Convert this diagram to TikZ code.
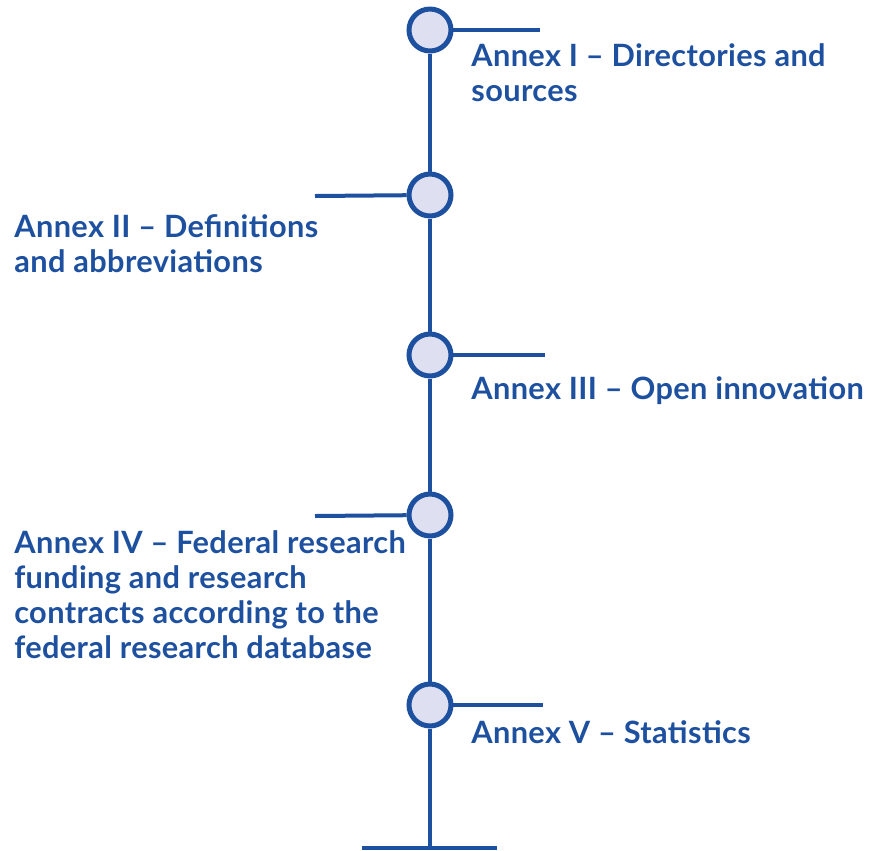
\documentclass[tikz,border=0pt]{standalone}
\usepackage{fontspec}
\setmainfont{Lato}[LetterSpace=1.2]
\usetikzlibrary{positioning}
\definecolor{annexblue}{RGB}{30,80,160}
\definecolor{annexfill}{RGB}{222,223,241}

\begin{document}
\begin{tikzpicture}[
  x=0.02cm, y=-0.02cm,
  font=\bfseries\fontsize{17.5}{19.9}\selectfont,
  stem/.style={draw=annexblue, line width=0.08cm},
  dot/.style={
    circle, draw=annexblue, fill=annexfill, line width=0.1cm,
    minimum size=0.84cm, inner sep=0pt
  },
  annex/.style={
    text=annexblue, align=left, anchor=north west, inner sep=0pt
  },
]
\useasboundingbox (0,0) rectangle (870,850);
%% Milestones
\node[dot] (C1) at (430,30)  {};
\node[dot] (C2) at (430,195) {};
\node[dot] (C3) at (430,355) {};
\node[dot] (C4) at (430,515) {};
\node[dot] (C5) at (430,705) {};
\coordinate (BOT) at (430,848);
%% Stem
\draw[stem] (C1)--(C2); \draw[stem] (C2)--(C3); \draw[stem] (C3)--(C4);
\draw[stem] (C4)--(C5); \draw[stem] (C5)--(BOT);
%% Foot
\coordinate (FL) at (362,848); \coordinate (FR) at (497,848);
\draw[stem] (FL)--(FR);
%% Ticks
\coordinate (E1) at (540,30);  \coordinate (E2) at (315,196);
\coordinate (E3) at (545,355); \coordinate (E4) at (315,516);
\coordinate (E5) at (543,705);
\draw[stem] (C1)--(E1); \draw[stem] (E2)--(C2); \draw[stem] (C3)--(E3);
\draw[stem] (E4)--(C4); \draw[stem] (C5)--(E5);
%% Labels
\node[annex] (T1) at (471,43)  {Annex I – Directories and\\sources};
\node[annex] (T2) at (14,214)  {Annex II – Definitions\\and abbreviations};
\node[annex] (T3) at (471,376) {Annex III – Open innovation};
\node[annex] (T4) at (14,530)
  {Annex IV – Federal research\\funding and research\\contracts according to the\\federal research database};
\node[annex] (T5) at (471,720) {Annex V – Statistics};
\end{tikzpicture}
\end{document}
